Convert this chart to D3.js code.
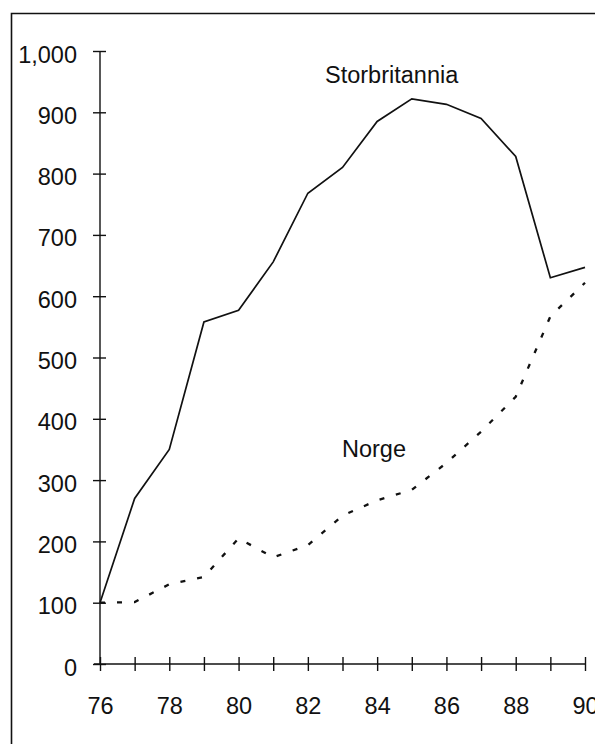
<!DOCTYPE html>
<html>
<head>
<meta charset="utf-8">
<script src="https://cdn.jsdelivr.net/npm/d3@7"></script>
<style>
  html, body { margin: 0; padding: 0; background: #fff; }
  svg { display: block; }
  text { font-family: "Liberation Sans", Arial, Helvetica, sans-serif; fill: #111; }
</style>
</head>
<body>
<svg id="chart" width="595" height="744"></svg>
<script>
// ---- data ----
const years = [76, 77, 78, 79, 80, 81, 82, 83, 84, 85, 86, 87, 88, 89, 90];
const storbritannia = [100, 270, 350, 558, 577, 656, 768, 810, 885, 922, 913, 890, 828, 630, 647];
const norge = [100, 101, 130, 142, 205, 174, 194, 242, 267, 284, 328, 379, 436, 567, 622];
const xTickValues = [76, 77, 78, 79, 80, 81, 82, 83, 84, 85, 86, 87, 88, 89, 90];
const xTickLabels = ["76", "", "78", "", "80", "", "82", "", "84", "", "86", "", "88", "", "90"];
const yTickValues = [0, 100, 200, 300, 400, 500, 600, 700, 800, 900, 1000];
const seriesNames = ["Storbritannia", "Norge"];

// ---- layout ----
const svg = d3.select("#chart");
const x = d3.scaleLinear().domain([76, 90]).range([100, 585]);
const y = d3.scaleLinear().domain([0, 1000]).range([664, 51]);

// frame
svg.append("path")
  .attr("d", "M11.5,760 L11.5,13.5 L600,13.5")
  .attr("fill", "none").attr("stroke", "#111").attr("stroke-width", 1.6);

// y axis
const yAxis = d3.axisLeft(y).tickValues(yTickValues).tickSize(7)
  .tickFormat(d3.format(",")).tickPadding(16);
const gy = svg.append("g").attr("transform", "translate(100,0)").call(yAxis);
gy.select(".domain").remove();
gy.selectAll(".tick line").attr("x1", -7).attr("x2", 6).attr("stroke", "#111").attr("stroke-width", 1.4);
gy.selectAll(".tick text")
  .attr("font-size", 23.5).attr("font-family", "Liberation Sans, Arial, sans-serif")
  .attr("fill", "#111").attr("dy", "0.47em").attr("x", -23);
gy.append("line").attr("x1", 0).attr("x2", 0)
  .attr("y1", y(1000)).attr("y2", y(0)).attr("stroke", "#111").attr("stroke-width", 1.4);

// x axis
const xAxis = d3.axisBottom(x).tickValues(xTickValues).tickSize(7)
  .tickFormat((d, i) => xTickLabels[i]).tickPadding(26);
const gx = svg.append("g").attr("transform", `translate(0,${y(0)})`).call(xAxis);
gx.select(".domain").remove();
gx.selectAll(".tick line").attr("y1", -7).attr("y2", 7).attr("stroke", "#111").attr("stroke-width", 1.4);
gx.selectAll(".tick text")
  .attr("font-size", 23.5).attr("font-family", "Liberation Sans, Arial, sans-serif")
  .attr("fill", "#111").attr("dy", "0.71em");
gx.append("line").attr("x1", 94).attr("x2", x(90))
  .attr("y1", 0).attr("y2", 0).attr("stroke", "#111").attr("stroke-width", 1.6);

// lines
const line = d3.line().x((d, i) => x(years[i])).y(d => y(d));
svg.append("path").datum(storbritannia)
  .attr("d", line).attr("fill", "none").attr("stroke", "#111")
  .attr("stroke-width", 1.7).attr("stroke-linejoin", "miter");
svg.append("path").datum(norge)
  .attr("d", line).attr("fill", "none").attr("stroke", "#111")
  .attr("stroke-width", 2.3).attr("stroke-dasharray", "5,12");

// series labels
svg.append("text").text(seriesNames[0])
  .attr("x", 325).attr("y", 83).attr("font-size", 23.5);
svg.append("text").text(seriesNames[1])
  .attr("x", 342).attr("y", 457).attr("font-size", 23.5);
</script>
</body>
</html>
